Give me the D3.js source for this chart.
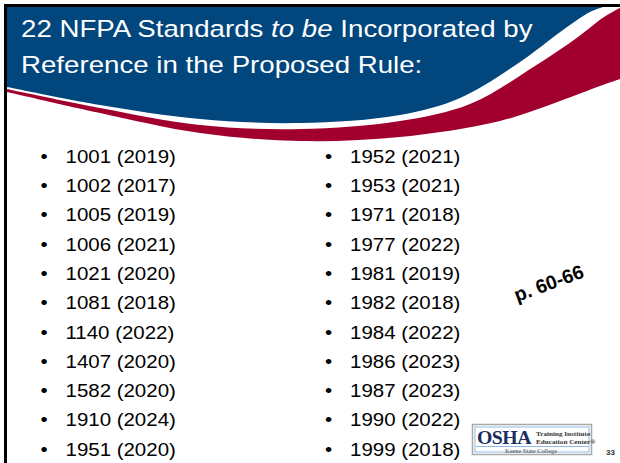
<!DOCTYPE html>
<html>
<head>
<meta charset="utf-8">
<script src="https://cdn.jsdelivr.net/npm/d3@7"></script>
<style>
  body { margin: 0; background: #fff; }
  svg { display: block; font-family: 'Liberation Sans', Arial, sans-serif; }
</style>
</head>
<body>
<svg id="slide" width="620" height="463"></svg>
<script>
// slide content
const titleLine1 = [
  { text: '22 NFPA Standards ', italic: false },
  { text: 'to be', italic: true },
  { text: ' Incorporated by', italic: false },
];
const titleLine2 = 'Reference in the Proposed Rule:';

const leftStandards = ['1001', '1002', '1005', '1006', '1021', '1081', '1140', '1407', '1582', '1910', '1951'];
const leftEditions = [2019, 2017, 2019, 2021, 2020, 2018, 2022, 2020, 2020, 2024, 2020];
const rightStandards = ['1952', '1953', '1971', '1977', '1981', '1982', '1984', '1986', '1987', '1990', '1999'];
const rightEditions = [2021, 2021, 2018, 2022, 2019, 2018, 2022, 2023, 2023, 2022, 2018];

const pageRef = 'p. 60-66';
const slideNumber = '33';

const svg = d3.select('#slide');
const W = +svg.attr('width');
const H = +svg.attr('height');
const stretch = 1.1; // the slide is a bit wider than its fonts

svg.append('rect').attr('width', W).attr('height', H).attr('fill', '#fff');

// banner
const edge = d3.line().curve(d3.curveCatmullRom.alpha(0.5));
const blueEdge = [[7, 87], [100, 105], [200, 119], [300, 123], [400, 115], [460, 98], [520, 62], [563, 30], [590, 12], [603, 7]];
const redTop = [[7, 89], [100, 108], [200, 125], [300, 129], [400, 121], [470, 104], [535, 66], [578, 37], [604, 17], [620, 8]];
const redBottom = [[7, 92], [100, 113], [200, 133], [300, 141], [400, 137], [500, 121], [560, 101], [600, 86], [620, 79]];

const banner = svg.append('g');
banner.append('path')
  .attr('d', `${edge(redBottom)}L620,7L7,7Z`)
  .attr('fill', '#a1002f');
banner.append('path')
  .attr('d', `${edge(redTop)}L620,7L7,7Z`)
  .attr('fill', '#fff');
banner.append('path')
  .attr('d', `${edge(blueEdge)}L7,7Z`)
  .attr('fill', '#02467e');

// frame
svg.append('rect').attr('x', 4).attr('y', 4).attr('width', W - 4).attr('height', 3).attr('fill', '#000');
svg.append('rect').attr('x', 4).attr('y', 4).attr('width', 3).attr('height', H - 4).attr('fill', '#000');

// title
const title = svg.append('g')
  .attr('fill', '#fff')
  .attr('font-size', 24.7);

const t1 = title.append('text')
  .attr('transform', 'translate(21,36.5) scale(1.12,1)');
t1.selectAll('tspan')
  .data(titleLine1)
  .enter()
  .append('tspan')
  .attr('font-style', d => (d.italic ? 'italic' : 'normal'))
  .style('white-space', 'pre')
  .text(d => d.text);

title.append('text')
  .attr('transform', 'translate(21,72.7) scale(1.12,1)')
  .text(titleLine2);

// two bullet columns
const columns = [
  leftStandards.map((s, i) => ({ col: 0, row: i, label: `${s} (${leftEditions[i]})` })),
  rightStandards.map((s, i) => ({ col: 1, row: i, label: `${s} (${rightEditions[i]})` })),
];

const row = d3.scalePoint()
  .domain(d3.range(leftStandards.length))
  .range([162.8, 455.7]);

const colX = d3.scaleOrdinal()
  .domain([0, 1])
  .range([65.5, 350]);

const items = svg.append('g')
  .attr('font-size', 18.6)
  .attr('fill', '#000')
  .selectAll('g')
  .data(columns.flat())
  .enter()
  .append('g')
  .attr('transform', d => `translate(${colX(d.col)},${row(d.row)})`);

items.append('text')
  .attr('x', -19.5)
  .attr('text-anchor', 'middle')
  .attr('transform', `scale(${stretch},1)`)
  .text('\u2022');

items.append('text')
  .attr('transform', `scale(${stretch},1)`)
  .text(d => d.label);

// page reference note
svg.append('text')
  .attr('transform', 'translate(517,302) rotate(-20)')
  .attr('font-size', 19.5)
  .attr('font-weight', 'bold')
  .attr('fill', '#000')
  .text(pageRef);

// OSHA logo
const logo = svg.append('g')
  .attr('font-family', "'Liberation Serif', 'Times New Roman', serif");

logo.append('rect')
  .attr('x', 472.5)
  .attr('y', 424.5)
  .attr('width', 119)
  .attr('height', 30)
  .attr('fill', '#fff')
  .attr('stroke', '#a9a9a9')
  .attr('stroke-width', 1.5);
logo.append('rect')
  .attr('x', 475)
  .attr('y', 427)
  .attr('width', 114)
  .attr('height', 25)
  .attr('fill', 'none')
  .attr('stroke', '#8fbbe3')
  .attr('stroke-width', 1);
logo.append('line')
  .attr('x1', 476)
  .attr('x2', 588)
  .attr('y1', 446.5)
  .attr('y2', 446.5)
  .attr('stroke', '#8fbbe3')
  .attr('stroke-width', 1);

logo.append('text')
  .attr('transform', `translate(477,444) scale(${stretch},1)`)
  .attr('font-size', 18)
  .attr('font-weight', 'bold')
  .attr('fill', '#1b2f63')
  .attr('letter-spacing', -0.5)
  .text('OSHA');

logo.append('text')
  .attr('transform', `translate(536,436) scale(${stretch},1)`)
  .attr('font-size', 6.5)
  .attr('font-weight', 'bold')
  .attr('fill', '#333')
  .text('Training Institute');
logo.append('text')
  .attr('transform', `translate(536,443.5) scale(${stretch},1)`)
  .attr('font-size', 6.5)
  .attr('font-weight', 'bold')
  .attr('fill', '#333')
  .text('Education Center\u00ae');
logo.append('text')
  .attr('transform', `translate(531,453) scale(${stretch},1)`)
  .attr('text-anchor', 'middle')
  .attr('font-size', 5.8)
  .attr('fill', '#444')
  .text('Keene State College');

// slide number
svg.append('text')
  .attr('x', 606)
  .attr('y', 455)
  .attr('font-size', 8)
  .attr('font-weight', 'bold')
  .attr('fill', '#333')
  .text(slideNumber);
</script>
</body>
</html>
